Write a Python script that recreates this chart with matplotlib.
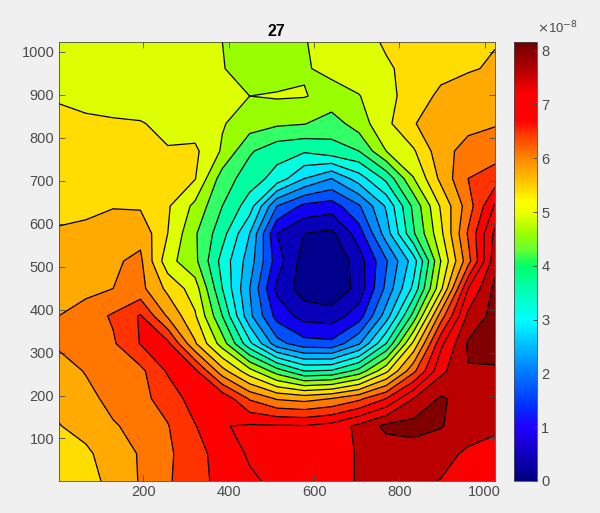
import numpy as np
import matplotlib
matplotlib.use('Agg')
import matplotlib.pyplot as plt
from matplotlib.cm import ScalarMappable
from matplotlib.colors import LinearSegmentedColormap, Normalize

plt.rcParams['font.family'] = ['Liberation Sans', 'DejaVu Sans']

# grid nodes of the field, values are in 1e-8 (row 0 = top)
x_nodes = [1, 65, 129, 193, 257, 321, 385, 449, 513, 577, 641, 705, 769, 833, 897, 961, 1024]
y_nodes = [1024, 961, 897, 833, 769, 705, 641, 577, 513, 449, 385, 321, 257, 193, 129, 65, 1]

z_rows = [
    [4.95, 4.95, 4.95, 4.95, 4.95, 4.92, 4.80, 4.60, 4.55, 4.78, 4.95, 5.05, 5.25, 5.35, 5.45, 5.52, 5.58],
    [5.05, 5.03, 5.00, 4.98, 4.97, 4.92, 4.82, 4.62, 4.58, 4.77, 4.88, 5.05, 5.15, 5.32, 5.45, 5.56, 5.65],
    [5.17, 5.10, 5.05, 5.03, 5.00, 4.95, 4.88, 4.80, 4.84, 4.82, 4.68, 4.78, 5.10, 5.35, 5.70, 5.82, 5.90],
    [5.28, 5.26, 5.24, 5.22, 5.12, 5.00, 4.83, 4.60, 4.47, 4.42, 4.20, 4.60, 5.10, 5.58, 5.78, 5.88, 5.97],
    [5.36, 5.33, 5.28, 5.24, 5.22, 5.28, 4.75, 4.05, 3.75, 3.65, 3.85, 4.00, 4.80, 5.15, 5.85, 6.15, 6.22],
    [5.43, 5.40, 5.36, 5.32, 5.28, 5.22, 4.20, 3.80, 3.45, 2.80, 2.40, 3.00, 3.70, 4.78, 5.70, 6.40, 6.60],
    [5.52, 5.50, 5.58, 5.55, 5.25, 4.70, 4.00, 3.40, 2.00, 1.50, 1.40, 1.95, 2.85, 4.10, 5.25, 6.20, 7.25],
    [5.63, 5.70, 5.78, 5.88, 5.20, 4.45, 3.75, 2.80, 1.20, 0.80, 0.70, 1.40, 2.60, 3.95, 5.10, 6.45, 7.70],
    [5.73, 5.80, 5.95, 6.08, 4.95, 4.50, 3.45, 2.60, 1.40, 0.60, 0.45, 1.00, 1.95, 3.00, 4.80, 6.25, 7.85],
    [5.83, 5.88, 6.00, 6.12, 5.50, 5.00, 3.60, 2.40, 1.10, 0.60, 0.45, 0.95, 2.10, 3.30, 5.10, 7.20, 8.10],
    [6.00, 6.20, 6.45, 6.84, 5.95, 5.25, 4.00, 2.50, 1.45, 1.05, 1.00, 1.40, 2.60, 4.15, 6.20, 7.70, 8.15],
    [6.05, 6.20, 6.35, 6.82, 6.90, 5.65, 4.60, 3.30, 2.15, 1.75, 1.70, 2.35, 3.60, 5.30, 7.10, 8.05, 8.17],
    [5.85, 6.02, 6.25, 6.30, 6.85, 6.90, 5.75, 4.95, 4.20, 3.60, 3.65, 4.15, 5.10, 6.30, 7.50, 7.98, 7.95],
    [5.72, 5.90, 6.10, 6.30, 6.55, 7.00, 7.10, 6.35, 5.95, 5.85, 6.00, 6.30, 6.80, 7.60, 8.05, 7.85, 7.80],
    [5.58, 5.75, 5.97, 6.10, 6.38, 6.78, 7.18, 7.25, 7.24, 7.22, 7.35, 7.70, 8.10, 8.15, 8.03, 7.75, 7.70],
    [5.45, 5.52, 5.82, 6.03, 6.33, 6.65, 6.98, 7.25, 7.35, 7.38, 7.45, 7.63, 7.75, 7.80, 7.70, 7.55, 7.40],
    [5.28, 5.45, 5.72, 6.03, 6.35, 6.66, 6.92, 7.14, 7.28, 7.38, 7.50, 7.62, 7.68, 7.66, 7.59, 7.45, 7.30],
]

x_ticks = [200, 400, 600, 800, 1000]
y_ticks = [100, 200, 300, 400, 500, 600, 700, 800, 900, 1000]
cbar_ticks = [0, 1, 2, 3, 4, 5, 6, 7, 8]
levels = [0.4 * i for i in range(22)]
z_max = 8.17

gray = '#4a4a4a'
bg = '#f0f0f0'

# fill of each band between two contours, as seen in the picture
band_colors = ['#000080', '#00008c', '#0800b8', '#1000f0', '#0050ff', '#0088ff', '#00b8ff',
               '#00e8ff', '#00ffe0', '#00ffa0', '#33ff66', '#99ff00', '#ddff00', '#ffdd00',
               '#ffaa00', '#ff7700', '#ff3300', '#ff0000', '#fa0000', '#bb0000', '#800000']

# colour bar is not plain jet, stops read off the bar: (value, colour)
bar_stops = [(0, '#00007f'), (1.0, '#2000ff'), (1.4, '#0030ff'), (2.0, '#0078ff'), (3.0, '#00ffff'),
             (3.6, '#00ffaa'), (4.0, '#00ff66'), (4.3, '#66ff33'), (4.6, '#99ff00'), (5.0, '#eeff00'),
             (5.2, '#ffff00'), (5.6, '#ffc000'), (6.0, '#ff8800'), (6.5, '#ff3000'), (6.7, '#ff0000'),
             (7.2, '#ff0000'), (7.6, '#bb0000'), (8.17, '#700000')]
bar_cmap = LinearSegmentedColormap.from_list('bar', [(v / z_max, c) for v, c in bar_stops], N=256)

fig = plt.figure(figsize=(6, 5.13), dpi=100, facecolor=bg)
W, H = 600, 513
ax = fig.add_axes([58.5 / W, 1 - 481 / H, 436.5 / W, 439.5 / H])
cax = fig.add_axes([514 / W, 1 - 481 / H, 23 / W, 439.5 / H])

z = np.array(z_rows)
ax.contourf(x_nodes, y_nodes, z, levels=levels, colors=band_colors)
ax.contour(x_nodes, y_nodes, z, levels=levels, colors='black', linewidths=0.9)
ax.set_xlim(1, 1024)
ax.set_ylim(1, 1024)
ax.set_xticks(x_ticks)
ax.set_yticks(y_ticks)
ax.tick_params(direction='in', top=True, right=True, length=4, width=0.6,
               color=gray, labelcolor=gray, labelsize=10.5, pad=3)
for sp in ax.spines.values():
    sp.set_color(gray)
    sp.set_linewidth(0.6)
ax.set_title('27', fontsize=11.5, fontweight='bold', color='black', pad=4)

cb = fig.colorbar(ScalarMappable(Normalize(0, z_max), bar_cmap), cax=cax)
cb.set_ticks(cbar_ticks)
cb.ax.tick_params(direction='in', length=3, width=0.6, color=gray, labelcolor=gray, labelsize=10.5, pad=3)
cb.outline.set_edgecolor(gray)
cb.outline.set_linewidth(0.6)
fig.text(537 / W, 1 - 36 / H, r'$\times$10$^{-8}$', color=gray, fontsize=9.5, ha='left', va='bottom')

fig.savefig('out.png', dpi=100, facecolor=bg)
